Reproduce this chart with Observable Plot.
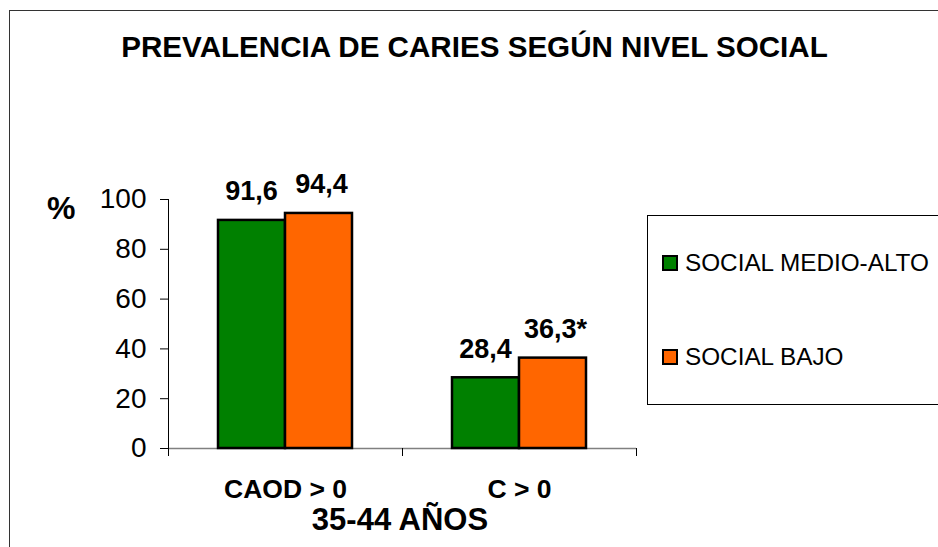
<!DOCTYPE html>
<html><head><meta charset="utf-8">
<script src="https://cdn.jsdelivr.net/npm/d3@7"></script>
<script src="https://cdn.jsdelivr.net/npm/@observablehq/plot@0.6"></script>
<style>
body{margin:0;background:#fff;}
#wrap{position:relative;width:938px;height:547px;overflow:hidden;font-family:"Liberation Sans",Arial,sans-serif;background:#fff;}
#wrap svg{position:absolute;left:0;top:0;}
.border{position:absolute;left:9px;top:10px;width:1200px;height:1200px;border:1px solid #333;box-sizing:border-box;}
.txt{position:absolute;white-space:nowrap;line-height:1;color:#000;}
.legend{position:absolute;left:647px;top:215px;width:400px;height:190px;border:1px solid #000;box-sizing:border-box;background:#fff;}
.sw{position:absolute;width:16px;height:16px;border:2px solid #000;box-sizing:border-box;}
</style></head><body><div id="wrap"><div class="border"></div></div>
<script>
const categories = ["CAOD > 0", "C > 0"];
const series = ["SOCIAL MEDIO-ALTO", "SOCIAL BAJO"];
const colors = ["#008000", "#FF6600"];
const medioAlto = [91.6, 28.4];
const bajo = [94.4, 36.3];
const labelsMedioAlto = ["91,6", "28,4"];
const labelsBajo = ["94,4", "36,3*"];
const yTicks = [0, 20, 40, 60, 80, 100];
const title = "PREVALENCIA DE CARIES SEGÚN NIVEL SOCIAL";
const xTitle = "35-44 AÑOS";
const yTitle = "%";

const rowsA = categories.map((c, i) => ({category: c, value: medioAlto[i], label: labelsMedioAlto[i]}));
const rowsB = categories.map((c, i) => ({category: c, value: bajo[i], label: labelsBajo[i]}));

const font = "'Liberation Sans', Arial, sans-serif";
const plot = Plot.plot({
  width: 938, height: 547,
  marginLeft: 168, marginRight: 302, marginTop: 199, marginBottom: 99,
  style: {fontFamily: font, background: "transparent", color: "#000"},
  x: {type: "band", domain: categories, padding: 0},
  y: {domain: [0, 100]},
  marks: [
    Plot.ruleY([0], {stroke: "#808080", strokeWidth: 1.5}),
    Plot.ruleX([categories[0]], {x: d => d, dx: -117, y1: 0, y2: 100, stroke: "#000", strokeWidth: 1}),
    Plot.ruleX(categories, {x: d => d, dx: -117, y1: 0, y2: 0, insetBottom: -8, stroke: "#000"}),
    Plot.ruleX([categories[categories.length - 1]], {x: d => d, dx: 117, y1: 0, y2: 0, insetBottom: -8, stroke: "#000"}),
    Plot.axisY({ticks: yTicks, tickSize: 8, tickPadding: 14, fontSize: 28, label: null, stroke: "#000"}),
    Plot.axisX({tickSize: 0, tickPadding: 31, fontSize: 26.5, fontWeight: "bold", label: null}),
    Plot.barY(rowsA, {x: "category", y: "value", fill: colors[0], stroke: "#000", strokeWidth: 2.5, insetLeft: 50, insetRight: 117}),
    Plot.barY(rowsB, {x: "category", y: "value", fill: colors[1], stroke: "#000", strokeWidth: 2.5, insetLeft: 117, insetRight: 50}),
    Plot.text(rowsA, {x: "category", y: "value", text: "label", dx: -34, dy: -20, lineAnchor: "bottom", fontSize: 27, fontWeight: "bold", fill: "#000"}),
    Plot.text(rowsB, {x: "category", y: "value", text: "label", dx: 36, dy: -20, lineAnchor: "bottom", fontSize: 27, fontWeight: "bold", fill: "#000"})
  ]
});
const wrap = document.getElementById("wrap");
wrap.appendChild(plot);

function addText(str, css) {
  const d = document.createElement("div");
  d.className = "txt";
  d.textContent = str;
  Object.assign(d.style, css);
  wrap.appendChild(d);
  return d;
}
addText(title, {left: "0px", width: "949px", textAlign: "center", top: "32px", fontSize: "29.6px", fontWeight: "bold"});
addText(yTitle, {left: "47px", top: "192px", fontSize: "32px", fontWeight: "bold"});
addText(xTitle, {left: "0px", width: "800px", textAlign: "center", top: "504px", fontSize: "31px", fontWeight: "bold"});

const leg = document.createElement("div");
leg.className = "legend";
wrap.appendChild(leg);
series.forEach((s, i) => {
  const sw = document.createElement("div");
  sw.className = "sw";
  Object.assign(sw.style, {left: (662 - 647 - 1) + "px", top: (255 - 215 - 1 + i * 94) + "px", background: colors[i]});
  leg.appendChild(sw);
  const t = document.createElement("div");
  t.className = "txt";
  t.textContent = s;
  Object.assign(t.style, {left: (685 - 647 - 1) + "px", top: (251 - 215 - 1 + i * 94) + "px", fontSize: "24.3px"});
  leg.appendChild(t);
});
</script></body></html>
